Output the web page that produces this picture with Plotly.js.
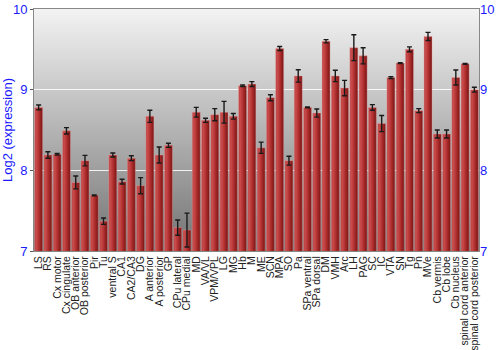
<!DOCTYPE html>
<html>
<head>
<meta charset="utf-8">
<script src="https://cdn.plot.ly/plotly-3.0.1.min.js"></script>
<style>
  html, body { margin: 0; padding: 0; background: #fff; }
  #chart { width: 500px; height: 350px; }
</style>
</head>
<body>
<div id="chart"></div>
<svg width="0" height="0" style="position:absolute">
  <defs>
    <linearGradient id="bggrad" x1="0" y1="0" x2="0" y2="1">
      <stop offset="0" stop-color="#f3f3f3"/>
      <stop offset="0.5" stop-color="#b4b4b4"/>
      <stop offset="1" stop-color="#727272"/>
    </linearGradient>
    <linearGradient id="bargrad" x1="0" y1="0" x2="1" y2="0">
      <stop offset="0" stop-color="#b53a3a"/>
      <stop offset="0.2" stop-color="#c94c4c"/>
      <stop offset="0.55" stop-color="#b02e2e"/>
      <stop offset="1" stop-color="#761414"/>
    </linearGradient>
  </defs>
</svg>
<script>
const categories = ["LS","RS","Cx motor","Cx cingulate","OB anterior","OB posterior","Pir","Tu",
  "ventral S","CA1","CA2/CA3","DG","A anterior","A posterior","GP","CPu lateral","CPu medial",
  "MD","VA/VL","VPM/VPL","LG","MG","Hb","M","ME","SCN","MPA","SO","Pa","SPa ventral","SPa dorsal",
  "DM","VMH","Arc","LH","PAG","SC","IC","VTA","SN","Tg","Pn","MVe","Cb vermis","Cb lobe",
  "Cb nucleus","spinal cord anterior","spinal cord posterior"];
const values = [8.78,8.19,8.20,8.49,7.85,8.12,7.69,7.37,
  8.19,7.86,8.15,7.81,8.67,8.19,8.31,7.29,7.26,
  8.72,8.62,8.69,8.72,8.67,9.05,9.07,8.28,8.90,9.51,8.12,9.17,8.78,8.71,
  9.60,9.17,9.02,9.52,9.42,8.78,8.58,9.15,9.33,9.50,8.74,9.66,8.45,8.45,
  9.15,9.32,9.00];
const errors = [0.03,0.04,0.01,0.04,0.08,0.065,0.005,0.04,
  0.025,0.03,0.03,0.1,0.075,0.1,0.025,0.095,0.21,
  0.06,0.025,0.075,0.135,0.035,0.01,0.03,0.07,0.037,0.025,0.055,0.077,0.005,0.05,
  0.02,0.07,0.095,0.16,0.1,0.035,0.1,0.012,0.005,0.03,0.025,0.05,0.05,0.05,
  0.093,0.005,0.03];
const yTicks = [7, 8, 9, 10];

const trace = {
  type: 'bar',
  x: categories,
  y: values,
  base: 0,
  marker: { color: '#ae2c2c', line: { color: 'rgba(235,160,160,0.7)', width: 0.6 } },
  error_y: { type: 'data', array: errors, visible: true, color: '#1a1a1a', thickness: 1.4, width: 2.5 },
  hoverinfo: 'none'
};
const fam = 'Arial, "Liberation Sans", sans-serif';
const axisFont = { family: fam, size: 13, color: '#1a1aff' };
const layout = {
  width: 500, height: 350,
  margin: { l: 34, r: 21, t: 9, b: 99, pad: 0 },
  paper_bgcolor: '#ffffff',
  plot_bgcolor: '#b0b0b0',
  showlegend: false,
  bargap: 0.14,
  xaxis: {
    type: 'category', tickangle: -90, automargin: false,
    range: [-0.5, categories.length - 0.5],
    tickmode: 'array', tickvals: categories, ticktext: categories,
    tickfont: { family: fam, size: 10.5, color: '#222' },
    showline: true, linecolor: '#888', linewidth: 1, mirror: true,
    ticks: '', showgrid: false
  },
  yaxis: {
    range: [7, 10], tickvals: yTicks, ticktext: yTicks.map(String), automargin: false,
    tickfont: axisFont, ticks: 'outside', ticklen: 3, tickcolor: '#555',
    showline: true, linecolor: '#888', linewidth: 1, mirror: true,
    showgrid: true, gridcolor: '#ffffff', gridwidth: 1.5, zeroline: false,
    title: { text: 'Log2 (expression)', font: { family: fam, size: 13, color: '#1a1aff' }, standoff: 6 }
  },
  yaxis2: {
    range: [7, 10], tickvals: yTicks, ticktext: yTicks.map(String), automargin: false,
    overlaying: 'y', side: 'right', tickfont: axisFont, ticks: '', showgrid: false,
    showline: false, zeroline: false
  }
};
const trace2 = { type: 'scatter', x: [categories[0]], y: [values[0]], yaxis: 'y2', mode: 'markers',
  marker: { opacity: 0, size: 1 }, hoverinfo: 'none' };

Plotly.newPlot('chart', [trace, trace2], layout, { staticPlot: true, displayModeBar: false }).then(function () {
  const bg = document.querySelector('#chart .bglayer rect.bg');
  if (bg) bg.style.fill = 'url(#bggrad)';
  document.querySelectorAll('#chart .barlayer .point path').forEach(function (p) {
    p.style.fill = 'url(#bargrad)';
  });
  document.querySelectorAll('#chart .gridlayer .ygrid').forEach(function (g) {
    g.style.strokeOpacity = '0.85';
  });
});
</script>
</body>
</html>
